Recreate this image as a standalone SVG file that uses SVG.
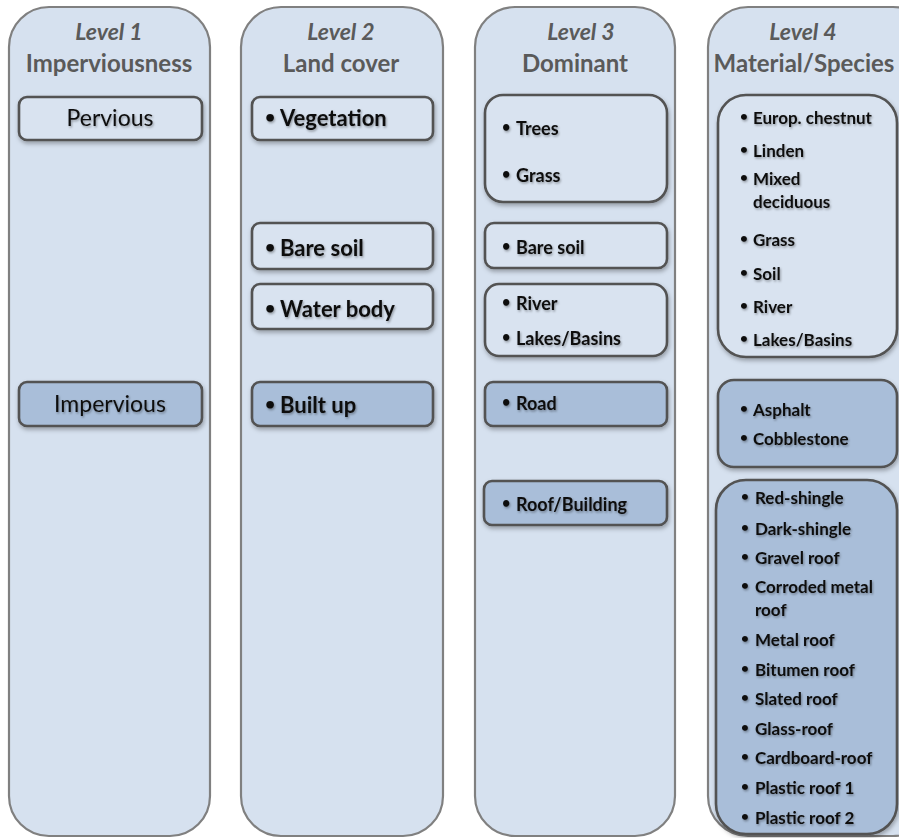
<svg xmlns="http://www.w3.org/2000/svg" width="899" height="838" viewBox="0 0 899 838">
<style>
.col{fill:#d6e1ef;stroke:#808080;stroke-width:2.2}
.nl{fill:#d9e3f0;stroke:#525252;stroke-width:2.6;filter:url(#sh)}
.nd{fill:#a9bed9;stroke:#525252;stroke-width:2.6;filter:url(#sh)}
.h1{font-family:Lato,"Open Sans",sans-serif;font-weight:bold;font-style:italic;font-size:23px;fill:#5a5a5a;text-anchor:middle}
.h2{font-family:Lato,"Open Sans",sans-serif;font-weight:bold;font-size:24px;fill:#5a5a5a;text-anchor:middle}
.t1{font-family:Lato,"Open Sans",sans-serif;font-size:23px;fill:#111;filter:url(#ts)}
.t2{font-family:Lato,"Open Sans",sans-serif;font-weight:bold;font-size:22px;fill:#111;filter:url(#ts)}
.t3{font-family:Lato,"Open Sans",sans-serif;font-weight:bold;font-size:18px;fill:#111;filter:url(#ts)}
.t4{font-family:Lato,"Open Sans",sans-serif;font-weight:bold;font-size:17px;fill:#111;filter:url(#ts)}
.c{text-anchor:middle}
.b{font-size:0.8em;baseline-shift:18%}
</style>
<defs>
<filter id="sh" x="-10%" y="-10%" width="130%" height="140%">
<feDropShadow dx="1" dy="2.5" stdDeviation="2" flood-color="#000" flood-opacity="0.3"/>
</filter>
<filter id="ts" x="-10%" y="-30%" width="130%" height="170%">
<feDropShadow dx="1" dy="1.5" stdDeviation="1.3" flood-color="#000" flood-opacity="0.35"/>
</filter>
</defs>
<g id="columns">
<rect id="col1" class="col" x="9" y="7" width="201" height="829" rx="40"/>
<rect id="col2" class="col" x="241" y="7" width="202" height="829" rx="40"/>
<rect id="col3" class="col" x="475" y="7" width="200" height="829" rx="40"/>
<rect id="col4" class="col" x="708" y="7" width="225" height="829" rx="40"/>
</g>
<g id="headers">
<text class="h1" x="109" y="40">Level 1</text>
<text class="h2" x="109" y="72">Imperviousness</text>
<text class="h1" x="341" y="40">Level 2</text>
<text class="h2" x="341" y="72">Land cover</text>
<text class="h1" x="581" y="40">Level 3</text>
<text class="h2" x="575" y="72">Dominant</text>
<text class="h1" x="803" y="40">Level 4</text>
<text class="h2" x="804" y="72">Material/Species</text>
</g>
<g id="connectors"/>
<g id="n-pervious"><rect class="nl" x="19" y="97" width="183" height="43" rx="8"/><text class="t1 c" x="110" y="126">Pervious</text></g>
<g id="n-impervious"><rect class="nd" x="19" y="382" width="183" height="44" rx="8"/><text class="t1 c" x="110" y="412">Impervious</text></g>
<g id="n-vegetation"><rect class="nl" x="252" y="97" width="181" height="43" rx="8"/><text class="t2" x="265" y="126"><tspan class="b">•</tspan><tspan x="280">Vegetation</tspan></text></g>
<g id="n-baresoil2"><rect class="nl" x="252" y="223" width="181" height="46" rx="8"/><text class="t2" x="265" y="256"><tspan class="b">•</tspan><tspan x="280">Bare soil</tspan></text></g>
<g id="n-water"><rect class="nl" x="252" y="284" width="181" height="45" rx="8"/><text class="t2" x="265" y="317"><tspan class="b">•</tspan><tspan x="280">Water body</tspan></text></g>
<g id="n-builtup"><rect class="nd" x="252" y="382" width="181" height="44" rx="8"/><text class="t2" x="265" y="413"><tspan class="b">•</tspan><tspan x="280">Built up</tspan></text></g>
<g id="n-treesgrass"><rect class="nl" x="485" y="95" width="182" height="107" rx="18"/>
<text class="t3" x="502" y="135"><tspan class="b">•</tspan><tspan x="516">Trees</tspan></text>
<text class="t3" x="502" y="182"><tspan class="b">•</tspan><tspan x="516">Grass</tspan></text></g>
<g id="n-baresoil3"><rect class="nl" x="485" y="223" width="182" height="45" rx="9"/><text class="t3" x="502" y="254"><tspan class="b">•</tspan><tspan x="516">Bare soil</tspan></text></g>
<g id="n-riverlakes"><rect class="nl" x="485" y="284" width="182" height="72" rx="14"/>
<text class="t3" x="502" y="310"><tspan class="b">•</tspan><tspan x="516">River</tspan></text>
<text class="t3" x="502" y="345"><tspan class="b">•</tspan><tspan x="516">Lakes/Basins</tspan></text></g>
<g id="n-road"><rect class="nd" x="485" y="382" width="182" height="44" rx="8"/><text class="t3" x="502" y="410"><tspan class="b">•</tspan><tspan x="516">Road</tspan></text></g>
<g id="n-roof"><rect class="nd" x="484" y="481" width="183" height="44" rx="8"/><text class="t3" x="502" y="511"><tspan class="b">•</tspan><tspan x="516">Roof/Building</tspan></text></g>
<g id="n-pervious4"><rect class="nl" x="718" y="95" width="179" height="262" rx="28"/>
<text class="t4" x="740" y="124"><tspan class="b">•</tspan><tspan x="753">Europ. chestnut</tspan></text>
<text class="t4" x="740" y="157"><tspan class="b">•</tspan><tspan x="753">Linden</tspan></text>
<text class="t4" x="740" y="185"><tspan class="b">•</tspan><tspan x="753">Mixed</tspan></text>
<text class="t4" x="753" y="208">deciduous</text>
<text class="t4" x="740" y="246"><tspan class="b">•</tspan><tspan x="753">Grass</tspan></text>
<text class="t4" x="740" y="280"><tspan class="b">•</tspan><tspan x="753">Soil</tspan></text>
<text class="t4" x="740" y="313"><tspan class="b">•</tspan><tspan x="753">River</tspan></text>
<text class="t4" x="740" y="346"><tspan class="b">•</tspan><tspan x="753">Lakes/Basins</tspan></text></g>
<g id="n-roadmat"><rect class="nd" x="718" y="380" width="179" height="87" rx="16"/>
<text class="t4" x="740" y="416"><tspan class="b">•</tspan><tspan x="753">Asphalt</tspan></text>
<text class="t4" x="740" y="445"><tspan class="b">•</tspan><tspan x="753">Cobblestone</tspan></text></g>
<g id="n-roofmat"><rect class="nd" x="716" y="480" width="181" height="354" rx="30"/>
<text class="t4" x="741" y="504"><tspan class="b">•</tspan><tspan x="755">Red-shingle</tspan></text>
<text class="t4" x="741" y="535"><tspan class="b">•</tspan><tspan x="755">Dark-shingle</tspan></text>
<text class="t4" x="741" y="564"><tspan class="b">•</tspan><tspan x="755">Gravel roof</tspan></text>
<text class="t4" x="741" y="593"><tspan class="b">•</tspan><tspan x="755">Corroded metal</tspan></text>
<text class="t4" x="755" y="616">roof</text>
<text class="t4" x="741" y="646"><tspan class="b">•</tspan><tspan x="755">Metal roof</tspan></text>
<text class="t4" x="741" y="676"><tspan class="b">•</tspan><tspan x="755">Bitumen roof</tspan></text>
<text class="t4" x="741" y="705"><tspan class="b">•</tspan><tspan x="755">Slated roof</tspan></text>
<text class="t4" x="741" y="735"><tspan class="b">•</tspan><tspan x="755">Glass-roof</tspan></text>
<text class="t4" x="741" y="764"><tspan class="b">•</tspan><tspan x="755">Cardboard-roof</tspan></text>
<text class="t4" x="741" y="794"><tspan class="b">•</tspan><tspan x="755">Plastic roof 1</tspan></text>
<text class="t4" x="741" y="824"><tspan class="b">•</tspan><tspan x="755">Plastic roof 2</tspan></text></g>
</svg>
